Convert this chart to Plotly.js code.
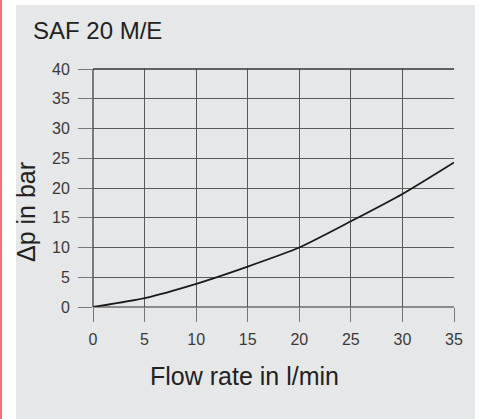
<!DOCTYPE html>
<html>
<head>
<meta charset="utf-8">
<script src="https://cdn.plot.ly/plotly-3.0.1.min.js"></script>
<style>
  html, body { margin: 0; padding: 0; background: #ffffff; width: 483px; height: 419px; overflow: hidden; }
  #chart { position: absolute; left: 0; top: 0; width: 483px; height: 419px; }
</style>
</head>
<body>
<div id="chart"></div>
<script>
const flowRate = [0, 5, 10, 15, 20, 25, 30, 35];
const pressureDrop = [0, 1.5, 3.9, 6.8, 10.0, 14.4, 19.0, 24.3];
const xTicks = [0, 5, 10, 15, 20, 25, 30, 35];
const yTicks = [0, 5, 10, 15, 20, 25, 30, 35, 40];
const chartTitle = 'SAF 20 M/E';
const xTitle = 'Flow rate in l/min';
const yTitle = 'Δp in bar';

const FONT = 'Liberation Sans, Arial, sans-serif';

const trace = {
  x: flowRate,
  y: pressureDrop,
  type: 'scatter',
  mode: 'lines',
  line: { color: '#1a1a1a', width: 1.8, shape: 'spline', smoothing: 0.6 },
  hoverinfo: 'skip'
};

const axisCommon = {
  showgrid: true,
  gridcolor: '#5a5a5a',
  gridwidth: 1,
  zeroline: false,
  showline: false,
  ticks: 'outside',
  ticklen: 14,
  tickwidth: 1,
  tickcolor: '#777777',
  tickfont: { family: FONT, size: 16, color: '#3a3a3a' }
};

const layout = {
  width: 483,
  height: 419,
  paper_bgcolor: '#ffffff',
  plot_bgcolor: 'rgba(0,0,0,0)',
  margin: { l: 93, r: 29, t: 69, b: 112 },
  showlegend: false,
  xaxis: Object.assign({}, axisCommon, {
    range: [0, 35],
    tickvals: xTicks,
    ticktext: xTicks.map(String),
    ticklabelstandoff: 4
  }),
  yaxis: Object.assign({}, axisCommon, {
    range: [0, 40],
    tickvals: yTicks,
    ticktext: yTicks.map(String),
    ticklabelstandoff: 5
  }),
  annotations: [
    { text: chartTitle, xref: 'paper', yref: 'paper', x: -0.1717, y: 1.1618,
      xanchor: 'left', yanchor: 'middle', showarrow: false,
      font: { family: FONT, size: 24, color: '#222222' } },
    { text: xTitle, xref: 'paper', yref: 'paper', x: 0.421, y: -0.290,
      xanchor: 'center', yanchor: 'middle', showarrow: false,
      font: { family: FONT, size: 25, color: '#222222' } },
    { text: yTitle, xref: 'paper', yref: 'paper', x: -0.1856, y: 0.399,
      xanchor: 'center', yanchor: 'middle', showarrow: false, textangle: -90,
      font: { family: FONT, size: 25, color: '#222222' } }
  ],
  shapes: [
    { type: 'rect', xref: 'paper', yref: 'paper', layer: 'below',
      x0: -0.2133, x1: 1.0582, y0: -0.48, y1: 1.2689,
      fillcolor: '#e6e7e8', line: { width: 0 } },
    { type: 'rect', xref: 'paper', yref: 'paper', layer: 'below',
      x0: -0.2580, x1: -0.2521, y0: -0.48, y1: 1.30,
      fillcolor: '#f0707c', line: { width: 0 } },
    { type: 'line', xref: 'paper', yref: 'paper', x0: 0, x1: 1, y0: 1, y1: 1,
      line: { color: '#333333', width: 1.5 } },
    { type: 'line', xref: 'paper', yref: 'paper', x0: 0, x1: 0, y0: 0, y1: 1,
      line: { color: '#333333', width: 1.2 } },
    { type: 'line', xref: 'paper', yref: 'paper', x0: 0, x1: 1, y0: 0, y1: 0,
      line: { color: '#333333', width: 1.2 } }
  ]
};

Plotly.newPlot('chart', [trace], layout, { staticPlot: true, displayModeBar: false });
</script>
</body>
</html>
